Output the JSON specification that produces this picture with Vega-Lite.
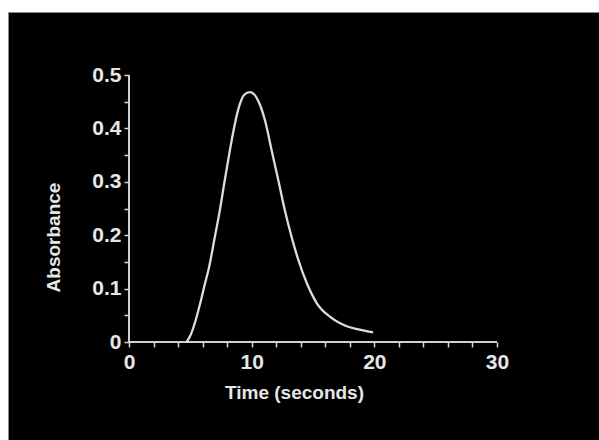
{
  "$schema": "https://vega.github.io/schema/vega-lite/v6.json",
  "width": 591,
  "height": 428,
  "autosize": {"type": "none"},
  "padding": {"left": 8, "top": 12, "right": 0, "bottom": 0},
  "background": "white",
  "config": {
    "view": {"fill": "black", "stroke": "#8a8a8a", "strokeWidth": 1},
    "axis": {
      "grid": false,
      "domain": false,
      "labelOverlap": false,
      "labelFlush": false,
      "tickColor": "#d8d8d8",
      "tickWidth": 1.5,
      "tickSize": 5,
      "labelColor": "#e6e6e6",
      "labelFont": "Liberation Sans",
      "labelFontWeight": "bold",
      "labelFontSize": 21,
      "titleColor": "#e6e6e6",
      "titleFont": "Liberation Sans",
      "titleFontWeight": "bold",
      "titleFontSize": 19
    }
  },
  "data": {
    "values": [
      {"t": 4.7, "a": 0},
      {"t": 5.0, "a": 0.012},
      {"t": 5.4, "a": 0.038},
      {"t": 5.8, "a": 0.072},
      {"t": 6.2, "a": 0.11},
      {"t": 6.5, "a": 0.137},
      {"t": 7.0, "a": 0.197},
      {"t": 7.4, "a": 0.246},
      {"t": 7.8, "a": 0.302},
      {"t": 8.2, "a": 0.356},
      {"t": 8.6, "a": 0.405},
      {"t": 9.0, "a": 0.443},
      {"t": 9.4, "a": 0.463},
      {"t": 9.85, "a": 0.468},
      {"t": 10.2, "a": 0.464},
      {"t": 10.55, "a": 0.451},
      {"t": 11.1, "a": 0.414},
      {"t": 11.6, "a": 0.362},
      {"t": 12.2, "a": 0.3},
      {"t": 12.7, "a": 0.247},
      {"t": 13.25, "a": 0.197},
      {"t": 13.8, "a": 0.154},
      {"t": 14.5, "a": 0.11},
      {"t": 15.3, "a": 0.073},
      {"t": 16.4, "a": 0.047},
      {"t": 17.7, "a": 0.03},
      {"t": 18.8, "a": 0.023},
      {"t": 19.9, "a": 0.018}
    ]
  },
  "encoding": {
    "x": {
      "type": "quantitative",
      "scale": {"domain": [-9.864, 38.315], "nice": false, "zero": false},
      "axis": {
        "title": "Time (seconds)",
        "offset": -98,
        "labelOverlap": false,
        "values": [0, 2, 4, 6, 8, 10, 12, 14, 16, 18, 20, 22, 24, 26, 28, 30],
        "labelExpr": "datum.value % 10 == 0 ? format(datum.value, '~g') : ''",
        "labelPadding": 4,
        "titleX": 286,
        "titleY": 50,
        "titleBaseline": "middle"
      }
    },
    "y": {
      "type": "quantitative",
      "scale": {"domain": [-0.18352, 0.618], "nice": false, "zero": false},
      "axis": {
        "title": "Absorbance",
        "offset": -121,
        "labelOverlap": false,
        "values": [0, 0.05, 0.1, 0.15, 0.2, 0.25, 0.3, 0.35, 0.4, 0.45, 0.5],
        "labelExpr": "round(datum.value * 100) % 10 == 0 ? format(datum.value, '~g') : ''",
        "labelPadding": 3,
        "titleX": -76,
        "titleY": 225,
        "titleBaseline": "middle",
        "titleAngle": -90
      }
    }
  },
  "layer": [
    {
      "mark": {"type": "rule", "color": "#d0d0d0", "strokeWidth": 2},
      "encoding": {
        "x": {"datum": 0},
        "x2": {"datum": 30},
        "y": {"datum": 0}
      }
    },
    {
      "mark": {"type": "rule", "color": "#d0d0d0", "strokeWidth": 2},
      "encoding": {
        "x": {"datum": 0},
        "y": {"datum": 0},
        "y2": {"datum": 0.5}
      }
    },
    {
      "mark": {"type": "line", "color": "#e2dcd8", "strokeWidth": 2.3, "interpolate": "monotone"},
      "encoding": {
        "x": {"field": "t"},
        "y": {"field": "a"}
      }
    }
  ]
}
